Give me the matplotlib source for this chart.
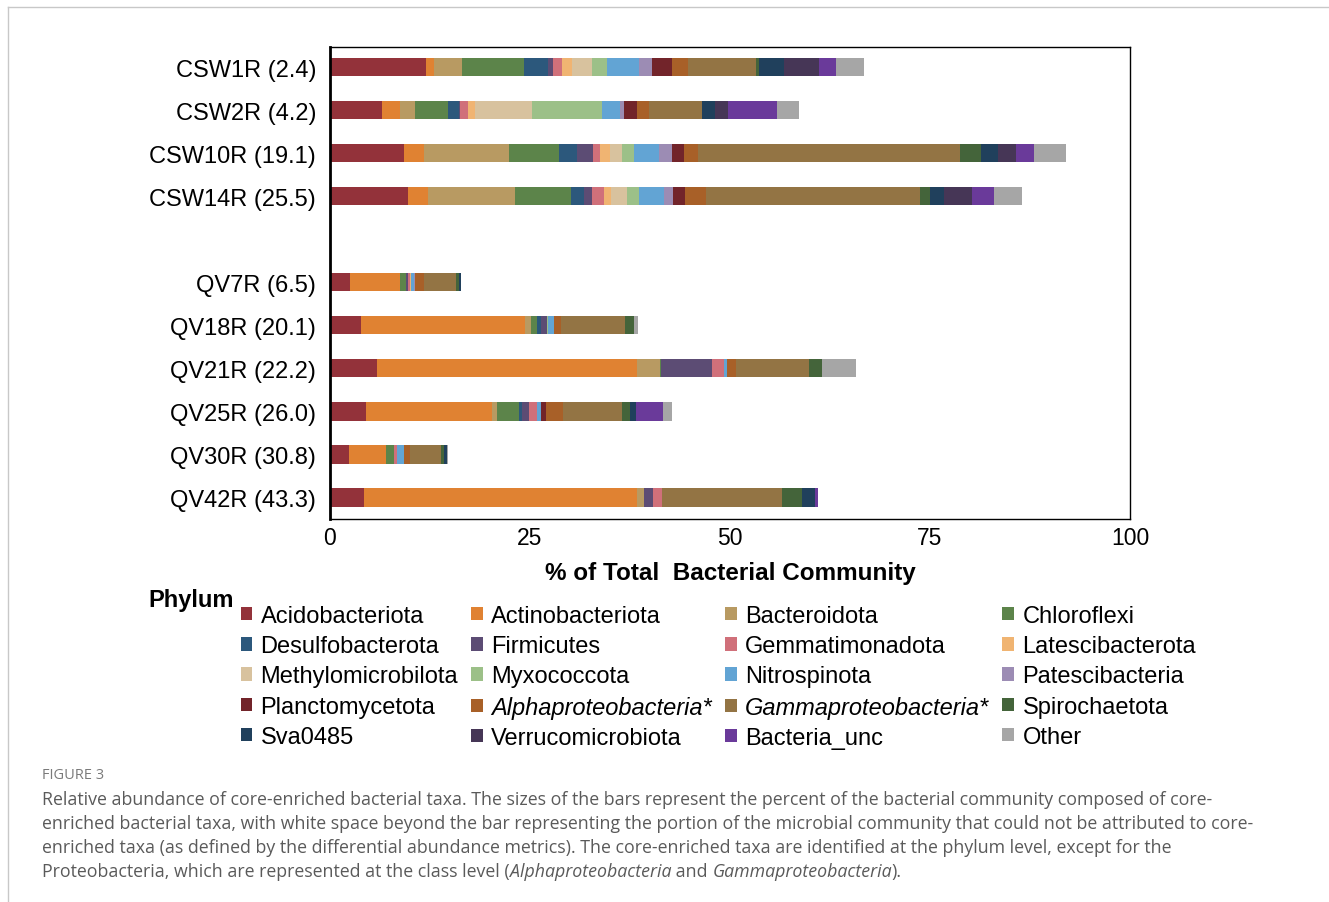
import matplotlib.pyplot as plt
from matplotlib.patches import Patch
from matplotlib.lines import Line2D

plt.rcParams['font.family'] = ['Liberation Sans', 'DejaVu Sans']

samples = ['CSW1R (2.4)', 'CSW2R (4.2)', 'CSW10R (19.1)', 'CSW14R (25.5)',
           'QV7R (6.5)', 'QV18R (20.1)', 'QV21R (22.2)', 'QV25R (26.0)',
           'QV30R (30.8)', 'QV42R (43.3)']
# gap row between the CSW and QV groups
positions = [0, 1, 2, 3, 5, 6, 7, 8, 9, 10]

phyla = ['Acidobacteriota', 'Actinobacteriota', 'Bacteroidota', 'Chloroflexi',
         'Desulfobacterota', 'Firmicutes', 'Gemmatimonadota', 'Latescibacterota',
         'Methylomicrobilota', 'Myxococcota', 'Nitrospinota', 'Patescibacteria',
         'Planctomycetota', 'Alphaproteobacteria*', 'Gammaproteobacteria*',
         'Spirochaetota', 'Sva0485', 'Verrucomicrobiota', 'Bacteria_unc',
         'Other']

colors = ['#93323a', '#e08232', '#b89a62', '#5c844a', '#2c587c', '#5c4c74',
          '#d0707a', '#f0b472', '#d8c29e', '#9cc088', '#62a4d4', '#9c8cb4',
          '#72242a', '#a86028', '#937444', '#44643a', '#20405c', '#463656',
          '#6a3a9a', '#a6a6a6']

# % of total community, one list per phylum, same order as samples
acidobacteriota = [12.0, 6.5, 9.3, 9.8, 2.5, 3.9, 5.9, 4.5, 2.35, 4.25]
actinobacteriota = [1.0, 2.2, 2.5, 2.5, 6.25, 20.5, 32.5, 15.8, 4.6, 34.15]
bacteroidota = [3.5, 1.9, 10.6, 10.8, 0, 0.7, 2.8, 0.55, 0, 0.85]
chloroflexi = [7.7, 4.1, 6.25, 7.0, 0.75, 0.75, 0.2, 2.75, 1.1, 0]
desulfobacterota = [3.1, 1.4, 2.2, 1.6, 0, 0.5, 0, 0.35, 0, 0]
firmicutes = [0.6, 0.15, 2.0, 1.0, 0.2, 0.75, 6.4, 0.9, 0, 1.15]
gemmatimonadota = [1.1, 0.95, 0.9, 1.5, 0.25, 0, 1.45, 1.0, 0.3, 1.1]
latescibacterota = [1.3, 0.9, 1.2, 0.9, 0.2, 0, 0, 0, 0, 0]
methylomicrobilota = [2.4, 7.1, 1.6, 2.0, 0, 0, 0, 0, 0, 0]
myxococcota = [1.9, 8.8, 1.4, 1.5, 0, 0.1, 0, 0, 0, 0]
nitrospinota = [4.0, 2.2, 3.2, 3.2, 0.3, 0.8, 0.4, 0.5, 0.85, 0]
patescibacteria = [1.7, 0.5, 1.6, 1.1, 0.15, 0, 0, 0, 0, 0]
planctomycetota = [2.5, 1.7, 1.5, 1.5, 0, 0, 0, 0.6, 0, 0]
alphaproteobacteria = [2.0, 1.5, 1.7, 2.6, 1.2, 0.9, 1.05, 2.2, 0.75, 0]
gammaproteobacteria = [8.5, 6.65, 32.8, 26.75, 3.9, 8.0, 9.2, 7.4, 3.9, 14.95]
spirochaetota = [0.3, 0, 2.6, 1.25, 0.4, 1.05, 1.6, 0.95, 0.4, 2.6]
sva0485 = [3.2, 1.6, 2.2, 1.7, 0.25, 0, 0, 0.7, 0.4, 1.6]
verrucomicrobiota = [4.3, 1.65, 2.2, 3.5, 0, 0, 0, 0, 0, 0]
bacteria_unc = [2.1, 6.1, 2.2, 2.8, 0, 0, 0, 3.45, 0, 0.4]
other = [3.5, 2.7, 4.1, 3.5, 0, 0.6, 4.25, 1.1, 0.1, 0]

table = [acidobacteriota, actinobacteriota, bacteroidota, chloroflexi,
         desulfobacterota, firmicutes, gemmatimonadota, latescibacterota,
         methylomicrobilota, myxococcota, nitrospinota, patescibacteria,
         planctomycetota, alphaproteobacteria, gammaproteobacteria,
         spirochaetota, sva0485, verrucomicrobiota, bacteria_unc, other]

fig = plt.figure(figsize=(13.29, 9.03), dpi=100)
ax = fig.add_axes([0.2483, 0.4241, 0.6020, 0.5227])

left = [0.0] * len(samples)
for vals, col in zip(table, colors):
    ax.barh(positions, vals, left=left, height=0.42, color=col,
            edgecolor='none')
    left = [a + b for a, b in zip(left, vals)]

ax.set_xlim(0, 100)
ax.set_ylim(10.5, -0.47)
ax.set_xticks([0, 25, 50, 75, 100])
ax.set_yticks(positions)
ax.set_yticklabels(samples)
ax.tick_params(axis='y', length=0, pad=10, labelsize=17)
ax.tick_params(axis='x', length=0, pad=5, labelsize=16.5)
ax.set_xlabel('% of Total  Bacterial Community', fontsize=17.5,
              fontweight='bold', labelpad=9)
for s in ax.spines.values():
    s.set_linewidth(1.0)
ax.spines['left'].set_linewidth(2.0)

# legend filled row by row (matplotlib fills columns first)
handles = [Patch(facecolor=c, edgecolor='none') for c in colors]
order = [r * 4 + c for c in range(4) for r in range(5)]
leg = fig.legend([handles[i] for i in order], [phyla[i] for i in order],
                 ncol=4, loc='upper left', bbox_to_anchor=(0.181, 0.329),
                 frameon=False, fontsize=17, handlelength=0.5,
                 handleheight=0.5, handletextpad=0.35, labelspacing=0.35,
                 columnspacing=0.55, borderpad=0, borderaxespad=0)
# proteobacteria classes are written in italics
for t in leg.get_texts():
    if 'proteobacteria' in t.get_text():
        t.set_fontstyle('italic')
fig.text(148 / 1329, 1 - 600 / 903, 'Phylum', fontsize=17, fontweight='bold',
         va='center', ha='left')

# page frame lines
fig.add_artist(Line2D([8 / 1329, 1], [1 - 8 / 903, 1 - 8 / 903],
                      color='#c8c8c8', lw=1))
fig.add_artist(Line2D([8 / 1329, 8 / 1329], [0, 1 - 8 / 903],
                      color='#c8c8c8', lw=1))

# caption
cap_color = '#5a5a5a'
cap_font = ['Open Sans', 'DejaVu Sans']
cap_size = 12.8
fig.text(42 / 1329, 1 - 776 / 903, 'FIGURE 3', fontsize=10.5,
         color='#7a7a7a', family=cap_font, va='center')
lines = [
    'Relative abundance of core-enriched bacterial taxa. The sizes of the bars represent the percent of the bacterial community composed of core-',
    'enriched bacterial taxa, with white space beyond the bar representing the portion of the microbial community that could not be attributed to core-',
    'enriched taxa (as defined by the differential abundance metrics). The core-enriched taxa are identified at the phylum level, except for the',
]
for i, ln in enumerate(lines):
    fig.text(42 / 1329, 1 - (800 + 24 * i) / 903, ln, fontsize=cap_size,
             color=cap_color, family=cap_font, va='center')

last = [('Proteobacteria, which are represented at the class level (', 'normal'),
        ('Alphaproteobacteria', 'italic'), (' and ', 'normal'),
        ('Gammaproteobacteria', 'italic'), (').', 'normal')]
renderer = fig.canvas.get_renderer()
x = 42 / 1329
for txt, style in last:
    t = fig.text(x, 1 - 872 / 903, txt, fontsize=cap_size, color=cap_color,
                 family=cap_font, style=style, va='center')
    bb = t.get_window_extent(renderer=renderer)
    x += bb.width / fig.bbox.width

fig.savefig('out.png', dpi=100)
